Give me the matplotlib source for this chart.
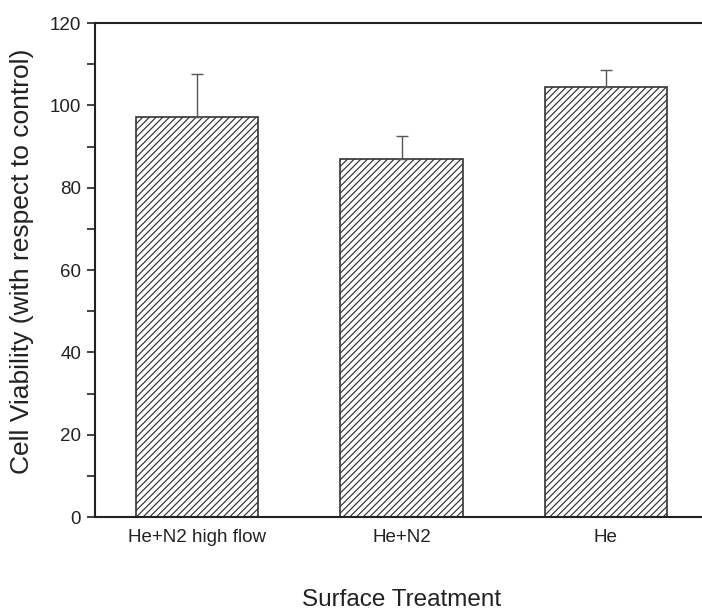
import matplotlib
matplotlib.use("Agg")
import matplotlib.pyplot as plt
from matplotlib.ticker import MultipleLocator

categories = ["He+N2 high flow", "He+N2", "He"]
viability = [97.1, 87.0, 104.4]
err_upper = [10.6, 5.5, 4.2]
y_ticks = [0, 20, 40, 60, 80, 100, 120]

plt.rcParams['font.family'] = ['Liberation Sans', 'DejaVu Sans']
plt.rcParams['hatch.linewidth'] = 0.85
plt.rcParams['hatch.color'] = '#606060'

W, H = 702, 613
fig = plt.figure(figsize=(W / 100, H / 100), dpi=100)
left, right, top, bottom = 95, 708, 23, 517
ax = fig.add_axes([left / W, (H - bottom) / H, (right - left) / W, (bottom - top) / H])

x = list(range(len(categories)))
ax.bar(x, viability, width=0.6, facecolor='white', edgecolor='#333333',
       linewidth=1.2, hatch='/////', zorder=2)
ax.errorbar(x, viability, yerr=[[0] * len(x), err_upper], fmt='none',
            ecolor='#555555', elinewidth=1.0, capsize=4.5, capthick=1.0, zorder=3)

ax.set_xlim(-0.5, 2.5)
ax.set_ylim(0, 120)
ax.set_yticks(y_ticks)
ax.yaxis.set_minor_locator(MultipleLocator(10))
ax.set_xticks(x)
ax.set_xticklabels(categories)

for s in ['left', 'bottom', 'top']:
    ax.spines[s].set_linewidth(1.5)
    ax.spines[s].set_color('#222222')
ax.spines['right'].set_visible(False)

ax.tick_params(axis='y', which='both', direction='out', length=6, width=1.2,
               labelsize=13.5, pad=4, colors='#222222')
ax.tick_params(axis='x', which='both', length=0, labelsize=13.5, pad=9, colors='#222222')

ax.set_ylabel("Cell Viability (with respect to control)", fontsize=19, color='#222222', va='center')
ax.yaxis.set_label_coords((22 - left) / (right - left), 0.517)
ax.set_xlabel("Surface Treatment", fontsize=17.5, color='#222222', va='center')
ax.xaxis.set_label_coords(0.5, -(600 - bottom) / (bottom - top))

fig.savefig("out.png", dpi=100)
